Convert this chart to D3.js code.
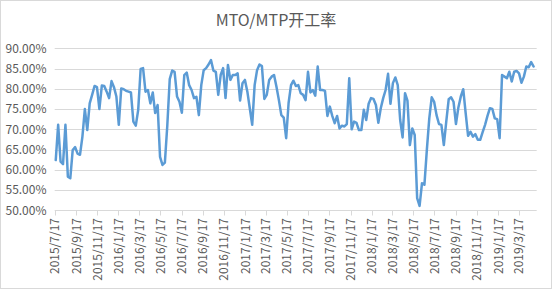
<!DOCTYPE html>
<html>
<head>
<meta charset="utf-8">
<script src="https://cdn.jsdelivr.net/npm/d3@7"></script>
<style>
	html, body { margin: 0; padding: 0; background: #fff; }
	svg { display: block; font-family: "Noto Sans CJK SC", "Noto Sans", sans-serif; }
</style>
</head>
<body>
<div id="chart"></div>
<script>

// Chart data: weekly operating rate (%), first reading in the week of 2015/7/17
var chartTitle = 'MTO/MTP开工率';
var firstWeek = '2015/7/20';
var axisStart = '2015/7/17';
var axisEnd = '2019/5/8';

var rates = [
	62.4, 71.1, 62.0, 61.4, 71.1, 58.3, 57.9, 64.9, 65.6, 64.0,
	63.7, 68.2, 75.0, 69.8, 76.4, 78.5, 80.7, 80.4, 75.0, 80.8,
	80.7, 79.3, 77.7, 81.9, 80.4, 78.1, 71.1, 80.1, 79.9, 79.5,
	79.3, 79.1, 71.9, 70.9, 74.8, 84.9, 85.1, 79.3, 79.7, 76.4,
	79.1, 74.0, 76.0, 63.2, 61.2, 61.8, 71.0, 82.4, 84.5, 84.2,
	78.1, 76.8, 74.1, 83.4, 84.0, 80.9, 79.7, 77.7, 78.0, 73.5,
	80.9, 84.6, 85.1, 86.0, 87.1, 84.5, 84.2, 78.5, 83.4, 85.1,
	77.7, 85.9, 82.2, 83.4, 83.4, 83.8, 77.1, 81.4, 82.2, 79.3,
	75.2, 71.1, 80.9, 84.6, 86.0, 85.6, 77.5, 78.5, 82.2, 83.0,
	83.4, 80.5, 77.2, 73.5, 72.9, 67.8, 76.5, 80.9, 82.0, 80.7,
	80.9, 78.9, 78.5, 77.2, 84.2, 79.1, 79.7, 78.3, 85.5, 79.7,
	79.7, 79.5, 73.3, 75.6, 73.3, 71.5, 73.3, 70.2, 70.9, 70.7,
	71.3, 82.6, 70.0, 71.9, 71.6, 69.8, 69.8, 74.8, 72.3, 76.3,
	77.7, 77.5, 76.0, 71.6, 75.2, 77.7, 79.7, 83.7, 76.3, 81.4,
	82.8, 80.9, 72.3, 68.0, 78.9, 77.1, 66.1, 70.2, 68.6, 53.0,
	51.1, 56.7, 56.3, 64.9, 72.7, 77.9, 76.8, 73.5, 71.3, 71.1,
	66.1, 71.9, 77.4, 77.9, 76.8, 71.3, 75.4, 78.1, 79.9, 74.0,
	68.4, 69.4, 68.2, 68.8, 67.4, 67.4, 69.3, 71.1, 73.3, 75.2,
	75.0, 72.7, 72.5, 67.8, 83.4, 83.0, 82.6, 84.2, 81.8, 84.2,
	84.4, 83.8, 81.5, 83.0, 85.5, 85.3, 86.6, 85.5
];

var xTickLabels = [
	'2015/7/17', '2015/9/17', '2015/11/17', '2016/1/17', '2016/3/17', '2016/5/17',
	'2016/7/17', '2016/9/17', '2016/11/17', '2017/1/17', '2017/3/17', '2017/5/17',
	'2017/7/17', '2017/9/17', '2017/11/17', '2018/1/17', '2018/3/17', '2018/5/17',
	'2018/7/17', '2018/9/17', '2018/11/17', '2019/1/17', '2019/3/17'
];

var yTicks = [50, 55, 60, 65, 70, 75, 80, 85, 90];

/**
 * Creates the graph
 */
var createGraph = function() {

	var width = 552;
	var height = 289;

	var parseDate = d3.timeParse('%Y/%-m/%-d');
	var formatDate = d3.timeFormat('%Y/%-m/%-d');
	var start = parseDate(firstWeek);

	var data = rates.map(function(v, i) {
		return {date: d3.timeDay.offset(start, i * 7), value: v};
	});

	var plot = {left: 54.7, right: 536.7, top: 48.3, bottom: 210.3};

	// 1. Scales
	var x = d3.scaleTime()
			.domain([parseDate(axisStart), parseDate(axisEnd)])
			.range([plot.left, plot.right]);

	var y = d3.scaleLinear()
			.domain([50, 90])
			.range([plot.bottom, plot.top]);

	var svg = d3.select('#chart').append('svg')
			.attr('width', width)
			.attr('height', height);

	// Chart border
	svg.append('rect')
			.attr('x', 0.5).attr('y', 0.5)
			.attr('width', width - 1).attr('height', height - 1)
			.style('fill', '#fff')
			.style('stroke', '#d9d9d9');

	// Title
	svg.append('text')
			.attr('x', width / 2)
			.attr('y', 26)
			.attr('text-anchor', 'middle')
			.style('font-size', '16px')
			.style('fill', '#595959')
			.text(chartTitle);

	// 2. Gridlines + y labels
	var g = svg.append('g');

	g.selectAll('.grid').data(yTicks).enter().append('line')
			.attr('class', 'grid')
			.attr('x1', plot.left).attr('x2', plot.right)
			.attr('y1', function(d) { return Math.round(y(d)) + 0.5; })
			.attr('y2', function(d) { return Math.round(y(d)) + 0.5; })
			.style('stroke', '#d9d9d9')
			.style('stroke-width', 1);

	g.selectAll('.yLabel').data(yTicks).enter().append('text')
			.attr('class', 'yLabel')
			.attr('x', 46.5)
			.attr('y', function(d) { return y(d); })
			.attr('dy', '0.36em')
			.attr('text-anchor', 'end')
			.style('font-size', '12px')
			.style('fill', '#595959')
			.text(function(d) { return d.toFixed(2) + '%'; });

	// 3. X axis ticks + rotated labels
	var tickDates = xTickLabels.map(parseDate);
	var axisY = Math.round(y(50)) + 0.5;

	g.selectAll('.xTick').data(tickDates).enter().append('line')
			.attr('class', 'xTick')
			.attr('x1', function(d) { return Math.round(x(d)) + 0.5; })
			.attr('x2', function(d) { return Math.round(x(d)) + 0.5; })
			.attr('y1', axisY).attr('y2', axisY + 5)
			.style('stroke', '#d9d9d9');

	g.selectAll('.xLabel').data(tickDates).enter().append('text')
			.attr('class', 'xLabel')
			.attr('transform', function(d) { return 'translate(' + x(d) + ',' + 218 + ') rotate(-90)'; })
			.attr('dy', '0.36em')
			.attr('text-anchor', 'end')
			.style('font-size', '12px')
			.style('fill', '#595959')
			.text(function(d) { return formatDate(d); });

	// 4. Rate line
	var rateLine = d3.line()
			.x(function(d) { return x(d.date); })
			.y(function(d) { return y(d.value); });

	g.append('path').datum(data)
			.style('fill', 'none')
			.style('stroke', '#5b9bd5')
			.style('stroke-width', 2.5)
			.style('stroke-linejoin', 'round')
			.style('stroke-linecap', 'round')
			.attr('d', rateLine);
};

createGraph();

</script>
</body>
</html>
